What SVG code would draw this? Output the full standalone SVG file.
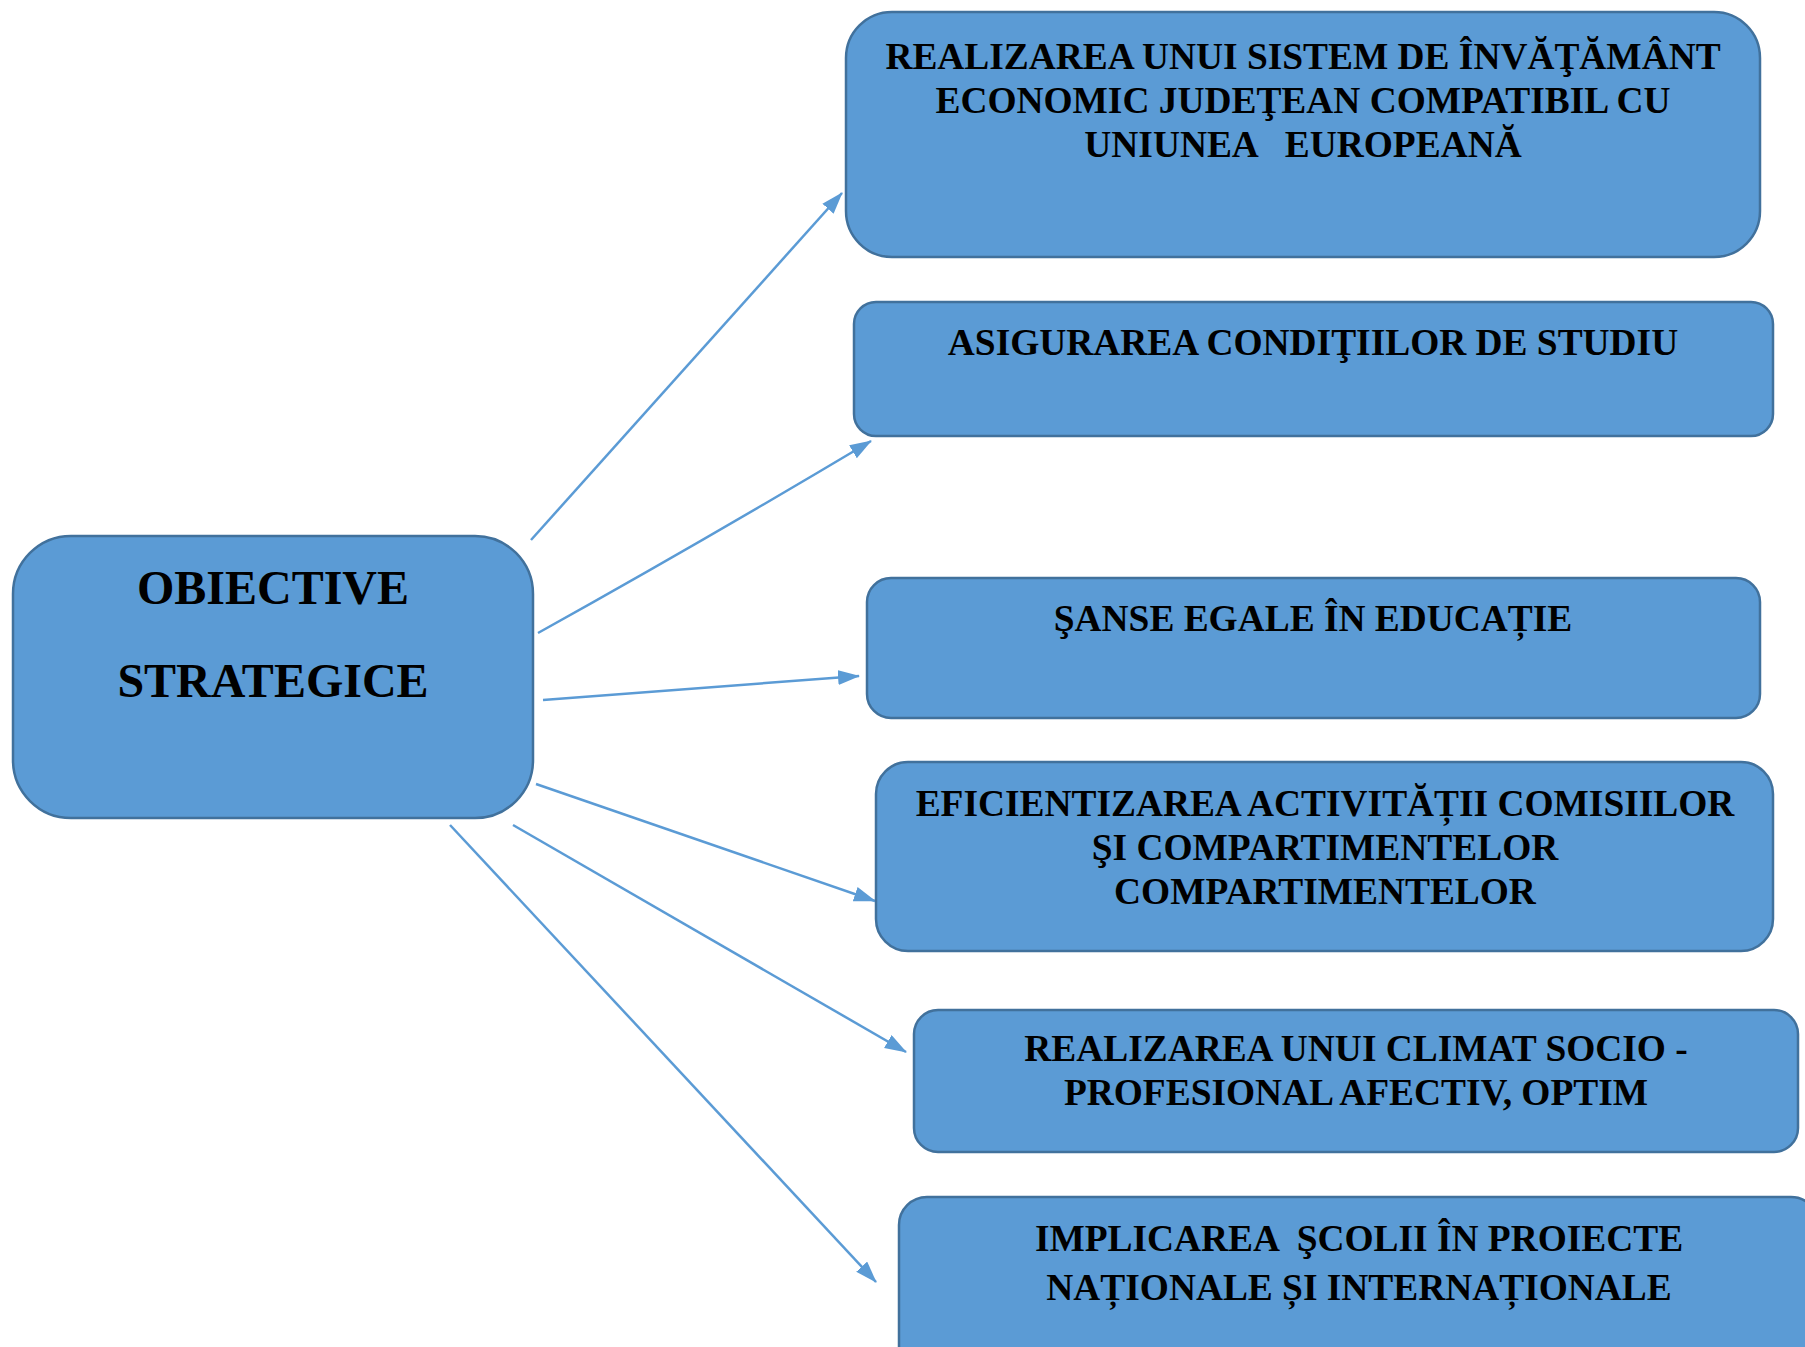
<svg xmlns="http://www.w3.org/2000/svg" width="1805" height="1347" viewBox="0 0 1805 1347">
<style>
.box{fill:#5B9BD5;stroke:#41719C;stroke-width:2.5}
.t{font-family:"Liberation Serif","Times New Roman",serif;font-weight:bold;font-size:37.4px;fill:#000;text-anchor:middle;white-space:pre}
.big{font-size:48px}
.c{stroke:#5B9BD5;stroke-width:2.5;fill:none;marker-end:url(#ah)}
</style>
<defs>
<marker id="ah" markerUnits="userSpaceOnUse" markerWidth="24" markerHeight="16" refX="21" refY="7.5" orient="auto">
<path d="M0,0 L22,7.5 L0,15 z" fill="#5B9BD5"/>
</marker>
</defs>
<rect width="1805" height="1347" fill="#fff"/>
<g id="connectors">
<line class="c" x1="531" y1="540" x2="842" y2="193"/>
<path class="c" d="M538,633 Q700,543 871,441"/>
<line class="c" x1="543" y1="700" x2="859" y2="676"/>
<line class="c" x1="536" y1="784" x2="875" y2="901"/>
<line class="c" x1="513" y1="825" x2="906" y2="1052"/>
<line class="c" x1="450" y1="825" x2="876" y2="1282"/>
</g>
<g id="n0">
<rect class="box" x="13" y="536" width="520" height="282" rx="58"/>
<text class="t big" x="273" y="604">OBIECTIVE</text>
<text class="t big" x="273" y="697">STRATEGICE</text>
</g>
<g id="n1">
<rect class="box" x="846" y="12" width="914" height="245" rx="46"/>
<text class="t" x="1303" y="69">REALIZAREA UNUI SISTEM DE ÎNVĂŢĂMÂNT</text>
<text class="t" x="1303" y="113">ECONOMIC JUDEŢEAN COMPATIBIL CU</text>
<text class="t" x="1303" y="157">UNIUNEA   EUROPEANĂ</text>
</g>
<g id="n2">
<rect class="box" x="854" y="302" width="919" height="134" rx="22"/>
<text class="t" x="1313" y="355">ASIGURAREA CONDIŢIILOR DE STUDIU</text>
</g>
<g id="n3">
<rect class="box" x="867" y="578" width="893" height="140" rx="24"/>
<text class="t" x="1313" y="631">ŞANSE EGALE ÎN EDUCAȚIE</text>
</g>
<g id="n4">
<rect class="box" x="876" y="762" width="897" height="189" rx="32"/>
<text class="t" x="1325" y="816">EFICIENTIZAREA ACTIVITĂȚII COMISIILOR</text>
<text class="t" x="1325" y="860">ŞI COMPARTIMENTELOR</text>
<text class="t" x="1325" y="904">COMPARTIMENTELOR</text>
</g>
<g id="n5">
<rect class="box" x="914" y="1010" width="884" height="142" rx="24"/>
<text class="t" x="1356" y="1061">REALIZAREA UNUI CLIMAT SOCIO -</text>
<text class="t" x="1356" y="1105">PROFESIONAL AFECTIV, OPTIM</text>
</g>
<g id="n6">
<rect class="box" x="899" y="1197" width="920" height="200" rx="28"/>
<text class="t" x="1359" y="1251">IMPLICAREA  ŞCOLII ÎN PROIECTE</text>
<text class="t" x="1359" y="1300">NAȚIONALE ȘI INTERNAȚIONALE</text>
</g>
</svg>
